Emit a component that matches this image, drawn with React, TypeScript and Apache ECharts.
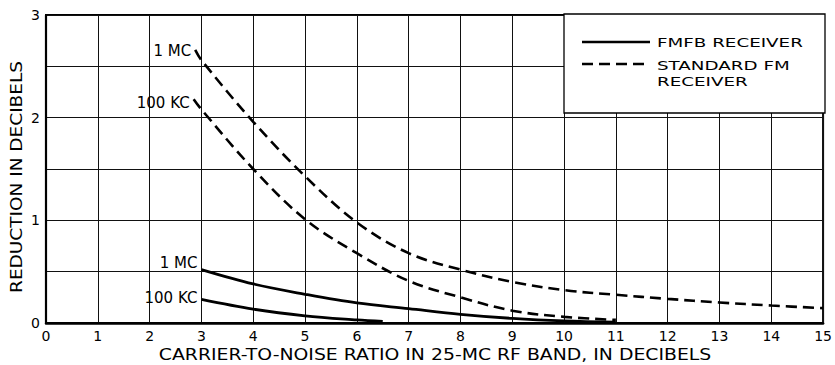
import React, { useEffect, useRef } from 'react';
import * as echarts from 'echarts';

// ---- data ----
const xTicks = [0, 1, 2, 3, 4, 5, 6, 7, 8, 9, 10, 11, 12, 13, 14, 15];
const yTicks = [0, 1, 2, 3];

const stdFm1MC: [number, number][] = [
  [2.88, 2.66], [3, 2.56], [4, 1.96], [5, 1.43], [6, 0.98], [7, 0.68], [8, 0.52],
  [9, 0.4], [10, 0.32], [11, 0.275], [12, 0.235], [13, 0.2], [14, 0.17], [15, 0.145],
];
const stdFm100KC: [number, number][] = [
  [2.85, 2.18], [3, 2.08], [4, 1.5], [5, 1.01], [6, 0.68], [7, 0.41], [8, 0.25],
  [9, 0.12], [10, 0.06], [11, 0.03],
];
const fmfb1MC: [number, number][] = [
  [3, 0.52], [4, 0.38], [5, 0.28], [6, 0.195], [7, 0.14], [8, 0.085], [9, 0.045],
  [10, 0.02], [11, 0.008],
];
const fmfb100KC: [number, number][] = [
  [3, 0.23], [4, 0.135], [5, 0.07], [6, 0.03], [6.5, 0.015],
];

const curveLabels = ['1 MC', '100 KC'];
const seriesNames = ['FMFB RECEIVER', 'STANDARD FM RECEIVER'];
const legendLines = ['FMFB RECEIVER', 'STANDARD FM', 'RECEIVER'];
const xTitle = 'CARRIER-TO-NOISE RATIO IN 25-MC RF BAND, IN DECIBELS';
const yTitle = 'REDUCTION IN DECIBELS';

const FONT = '"DejaVu Sans", sans-serif';

function measure(text: string, size: number): number {
  const c = document.createElement('canvas');
  const ctx = c.getContext('2d');
  if (!ctx) return text.length * size * 0.65;
  ctx.font = `${size}px ${FONT}`;
  return ctx.measureText(text).width;
}

function withFirstLabel(data: [number, number][], text: string, offset: [number, number]) {
  return data.map((d, i) =>
    i === 0
      ? {
          value: d,
          label: {
            show: true,
            position: 'left',
            distance: 4,
            offset,
            formatter: text,
            color: '#000',
            fontFamily: FONT,
            fontSize: 15,
          },
        }
      : { value: d }
  );
}

export default function App() {
  const ref = useRef<HTMLDivElement>(null);

  useEffect(() => {
    if (!ref.current) return;
    document.body.style.margin = '0';
    document.body.style.overflow = 'hidden';
    const chart = echarts.init(ref.current, undefined, { renderer: 'svg' });

    const titleSize = 15;
    const xTitleScale = 553 / measure(xTitle, titleSize);
    const yTitleScale = 232 / measure(yTitle, titleSize);
    const legSize = 13;
    const legScale = 146 / measure(legendLines[0], legSize);

    const dashed = { type: [11, 6] as number[], width: 2.6, color: '#000' };
    const solid = { type: 'solid', width: 2.8, color: '#000' };

    const base = {
      type: 'line',
      smooth: 0.35,
      symbol: 'circle',
      symbolSize: 0,
      showSymbol: true,
      showAllSymbol: true,
      itemStyle: { color: 'rgba(0,0,0,0)' },
      emphasis: { disabled: true },
      z: 3,
    };

    chart.setOption({
      animation: false,
      backgroundColor: '#fff',
      grid: {
        left: 46,
        right: 10,
        top: 15,
        bottom: 42,
        show: true,
        borderColor: '#000',
        borderWidth: 2,
        backgroundColor: 'transparent',
      },
      xAxis: {
        type: 'value',
        min: xTicks[0],
        max: xTicks[xTicks.length - 1],
        interval: 1,
        axisLine: { show: true, onZero: false, lineStyle: { color: '#000', width: 2.5 } },
        axisTick: { show: false },
        splitLine: { show: true, lineStyle: { color: '#111', width: 1 } },
        axisLabel: {
          color: '#000',
          fontFamily: FONT,
          fontSize: 14,
          margin: 6,
          formatter: (v: number) => (xTicks.includes(v) ? String(v) : ''),
        },
      },
      yAxis: {
        type: 'value',
        min: 0,
        max: yTicks[yTicks.length - 1],
        interval: 0.5,
        axisLine: { show: true, lineStyle: { color: '#000', width: 2.2 } },
        axisTick: { show: false },
        splitLine: { show: true, lineStyle: { color: '#111', width: 1 } },
        axisLabel: {
          color: '#000',
          fontFamily: FONT,
          fontSize: 14,
          margin: 6,
          formatter: (v: number) => (yTicks.includes(v) ? String(v) : ''),
        },
      },
      series: [
        {
          ...base,
          name: seriesNames[1],
          lineStyle: dashed,
          data: withFirstLabel(stdFm1MC, curveLabels[0], [0, 1]),
        },
        {
          ...base,
          name: seriesNames[1],
          lineStyle: dashed,
          data: withFirstLabel(stdFm100KC, curveLabels[1], [0, 4]),
        },
        {
          ...base,
          name: seriesNames[0],
          lineStyle: solid,
          data: withFirstLabel(fmfb1MC, curveLabels[0], [0, -7]),
        },
        {
          ...base,
          name: seriesNames[0],
          lineStyle: solid,
          data: withFirstLabel(fmfb100KC, curveLabels[1], [0, -1]),
        },
      ],
      graphic: [
        {
          type: 'rect',
          z: 10,
          shape: { x: 564, y: 14, width: 261, height: 99 },
          style: { fill: '#fff', stroke: '#000', lineWidth: 1.3 },
        },
        {
          type: 'line',
          z: 11,
          shape: { x1: 582, y1: 42, x2: 650, y2: 42 },
          style: { stroke: '#000', lineWidth: 2.6 },
        },
        {
          type: 'line',
          z: 11,
          shape: { x1: 582, y1: 64, x2: 650, y2: 64 },
          style: { stroke: '#000', lineWidth: 2.6, lineDash: [11, 6] },
        },
        {
          type: 'text',
          z: 11,
          x: 657,
          y: 42,
          scaleX: legScale,
          style: {
            text: legendLines[0],
            font: `${legSize}px ${FONT}`,
            fill: '#000',
            textAlign: 'left',
            textVerticalAlign: 'middle',
          },
        },
        {
          type: 'text',
          z: 11,
          x: 657,
          y: 65,
          scaleX: legScale,
          style: {
            text: legendLines[1],
            font: `${legSize}px ${FONT}`,
            fill: '#000',
            textAlign: 'left',
            textVerticalAlign: 'middle',
          },
        },
        {
          type: 'text',
          z: 11,
          x: 657,
          y: 81,
          scaleX: legScale,
          style: {
            text: legendLines[2],
            font: `${legSize}px ${FONT}`,
            fill: '#000',
            textAlign: 'left',
            textVerticalAlign: 'middle',
          },
        },
        {
          type: 'text',
          x: 435,
          y: 355,
          scaleX: xTitleScale,
          style: {
            text: xTitle,
            font: `${titleSize}px ${FONT}`,
            fill: '#000',
            textAlign: 'center',
            textVerticalAlign: 'middle',
          },
        },
        {
          type: 'text',
          x: 17,
          y: 177,
          rotation: Math.PI / 2,
          scaleX: yTitleScale,
          style: {
            text: yTitle,
            font: `${titleSize}px ${FONT}`,
            fill: '#000',
            textAlign: 'center',
            textVerticalAlign: 'middle',
          },
        },
      ],
    });

    return () => chart.dispose();
  }, []);

  return (
    <div
      ref={ref}
      style={{ position: 'fixed', left: 0, top: 0, width: 835, height: 365 }}
    />
  );
}
